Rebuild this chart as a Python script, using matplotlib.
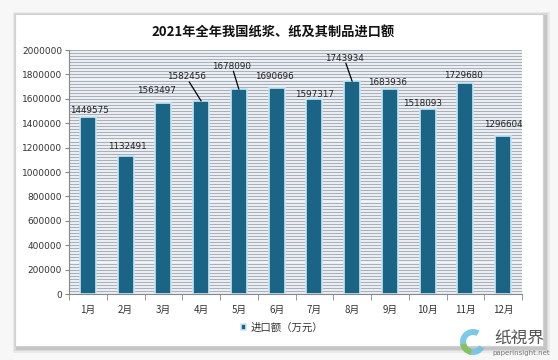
import matplotlib
matplotlib.use("Agg")
import matplotlib.pyplot as plt
from matplotlib.patches import Rectangle, Circle, Wedge
import numpy as np

plt.rcParams['font.family'] = ['Noto Sans CJK SC', 'DejaVu Sans']

months = ["1月", "2月", "3月", "4月", "5月", "6月", "7月", "8月", "9月", "10月", "11月", "12月"]
values = [1449575, 1132491, 1563497, 1582456, 1678090, 1690696,
          1597317, 1743934, 1683936, 1518093, 1729680, 1296604]
yticks = [0, 200000, 400000, 600000, 800000, 1000000, 1200000,
          1400000, 1600000, 1800000, 2000000]
title = "2021年全年我国纸浆、纸及其制品进口额"
series_name = "进口额（万元）"

# label offsets in pixels (dx, dy) and whether a leader line is drawn
label_offsets = [(2, 7), (2, 9), (-7, 13), (-15, 24), (-7, 23), (-2, 11),
                 (0, 5), (-8, 23), (-2, 6), (-5, 5), (-2, 7), (0, 11)]
leaders = [False, False, False, True, True, False, False, True, False, False, False, False]

fig = plt.figure(figsize=(5.58, 3.60), dpi=100)
fig.patch.set_facecolor("#f7f7f7")

# card with shadow
for i, a in enumerate([0.05, 0.07, 0.09]):
    pad = (3 - i) * 1.5
    fig.patches.append(Rectangle(((15 - pad + 2) / 558, 1 - (346 + pad + 2) / 360),
                                 (528 + 2 * pad) / 558, (332 + 2 * pad) / 360,
                                 transform=fig.transFigure, facecolor="black",
                                 alpha=a, edgecolor="none", zorder=0))
fig.patches.append(Rectangle((15 / 558, 1 - 346 / 360), 528 / 558, 332 / 360,
                             transform=fig.transFigure, facecolor="white",
                             edgecolor="#d0d0d0", linewidth=0.8, zorder=0.5))

ax = fig.add_axes([69 / 558, 1 - 294 / 360, (522 - 69) / 558, (294 - 50) / 360])
ax.set_zorder(1)
ax.set_facecolor("#f4f6f9")

x = np.arange(len(months))
bars = ax.bar(x, values, width=0.42, color="#1b6486", edgecolor="#c8e6f2",
              linewidth=1.2, zorder=3, label=series_name)

ax.set_xlim(-0.5, len(months) - 0.5)
ax.set_ylim(0, 2000000)
ax.set_yticks(yticks)
ax.set_yticklabels([str(v) for v in yticks], fontsize=6.5, color="#333333",
                   family="DejaVu Sans")
ax.set_yticks(np.arange(0, 2000001, 25000), minor=True)
ax.yaxis.grid(True, which="both", color="#a9b0ba", linewidth=0.9, zorder=0)
ax.tick_params(axis="y", which="minor", length=0)
ax.tick_params(axis="y", which="major", length=3, color="#888888", pad=2)

ax.set_xticks(x)
ax.set_xticklabels(months, fontsize=7, color="#333333")
ax.set_xticks(np.arange(-0.5, len(months), 1), minor=True)
ax.tick_params(axis="x", which="major", length=0, pad=8)
ax.tick_params(axis="x", which="minor", length=4, color="#888888")

for s in ["top", "right"]:
    ax.spines[s].set_visible(False)
for s in ["left", "bottom"]:
    ax.spines[s].set_color("#888888")
    ax.spines[s].set_linewidth(0.8)

for xi, v, (dx, dy), ld in zip(x, values, label_offsets, leaders):
    kw = dict(xy=(xi, v), xytext=(dx, dy), textcoords="offset pixels",
              ha="center", va="center", fontsize=6.3, color="#222222",
              family="DejaVu Sans", zorder=5,
              bbox=dict(boxstyle="square,pad=0.05", fc="none", ec="none"))
    if ld:
        kw["arrowprops"] = dict(arrowstyle="-", color="black", lw=0.9,
                                shrinkA=0, shrinkB=0)
    ax.annotate(str(v), **kw)

fig.text(273 / 558, 1 - 33 / 360, title, ha="center", va="center",
         fontsize=9.5, fontweight="bold", color="#111111")

fig.legend(handles=[bars], labels=[series_name], loc="center",
           bbox_to_anchor=(282 / 558, 1 - 328 / 360), frameon=False,
           fontsize=7.5, handlelength=0.5, handleheight=0.5, handletextpad=0.4,
           labelcolor="#333333")

# watermark
cx, cy, r = 473 / 558, 1 - 342 / 360, 13
fig.patches.append(Wedge((473, 18), r, 60, 330, width=6, transform=None,
                         facecolor="#6cc3e3", edgecolor="none", zorder=6, alpha=0.9))
fig.patches.append(Wedge((473, 18), r, 190, 260, width=6, transform=None,
                         facecolor="#8cc152", edgecolor="none", zorder=7, alpha=0.9))
fig.text(519 / 558, 1 - 338 / 360, "纸視界", ha="center", va="center",
         fontsize=12, color="#555555", zorder=6)
fig.text(521 / 558, 1 - 353 / 360, "paperinsight.net", ha="center", va="center",
         fontsize=5, color="#777777", family="DejaVu Sans", zorder=6)

fig.savefig("out.png", dpi=100, facecolor=fig.get_facecolor())
